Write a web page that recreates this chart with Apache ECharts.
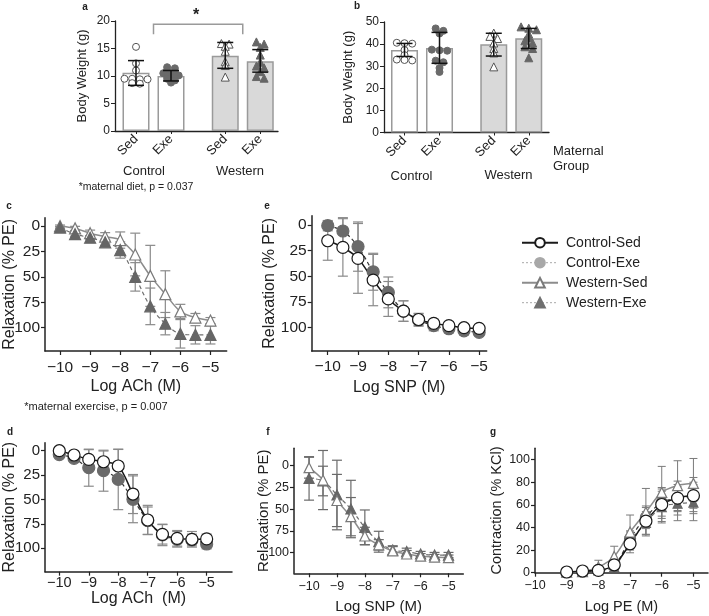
<!DOCTYPE html>
<html><head><meta charset="utf-8">
<script src="https://cdn.jsdelivr.net/npm/echarts@6/dist/echarts.min.js"></script>
<style>html,body{margin:0;padding:0;background:#fff}#c{width:709px;height:616px}</style>
</head><body><div id="c"></div>
<script>
// ================= DATA =================
const groupLabels = ['Control', 'Western'];
const barLabels = ['Sed', 'Exe', 'Sed', 'Exe'];
// panel a: body weight (g)
const aMeans = [10.6, 10.0, 13.7, 12.7];
const aLow   = [8.3, 9.1, 11.4, 10.7];
const aHigh  = [12.8, 11.0, 16.1, 14.8];
const aCSedPts = [15.3, 12.3, 11.0, 9.5, 9.5, 9.4, 9.4, 8.7, 8.6];
const aCExePts = [11.6, 11.4, 11.0, 10.7, 10.5, 10.3, 10.1, 10.0, 9.8, 9.5, 9.2, 8.8];
const aWSedPts = [15.9, 15.8, 15.4, 14.5, 12.6, 11.9, 9.8];
const aWExePts = [16.2, 15.8, 15.2, 13.8, 12.5, 11.8, 11.5, 10.8, 9.9, 9.6];
const aBracket = [19.4, 17.6];
// panel b: body weight (g)
const bMeans = [37.3, 38.2, 39.9, 42.7];
const bLow   = [34.4, 31.3, 34.6, 38.0];
const bHigh  = [40.3, 45.3, 44.9, 47.1];
const bCSedPts = [40.6, 40.4, 40.2, 37.3, 35.0, 33.0, 32.8, 32.6];
const bCExePts = [47.1, 46.0, 44.8, 37.5, 37.2, 37.0, 32.5, 31.8, 29.2, 27.4];
const bWSedPts = [45.0, 43.5, 42.5, 40.5, 38.0, 36.0, 29.7];
const bWExePts = [47.8, 47.2, 46.5, 44.5, 43.0, 41.5, 40.5, 38.8, 38.0, 33.8];
// concentration-response (log M)
const logConc = [-10, -9.5, -9, -8.5, -8, -7.5, -7, -6.5, -6, -5.5, -5];
const logPE   = [-9, -8.5, -8, -7.5, -7, -6.5, -6, -5.5, -5];
const logTicks = [-10, -9, -8, -7, -6, -5];
const relaxTicks = [0, 25, 50, 75, 100];
const contrTicks = [0, 20, 40, 60, 80, 100];
// panel c: ACh, Western
const cWSed    = [0, 2.3, 7, 10.5, 13.8, 28, 49, 67, 84, 90, 93];
const cWSedErr = [1, 2, 3, 4, 8, 21, 30, 23, 7, 4, 3];
const cWExe    = [1.5, 8, 11.5, 16, 23.6, 50, 79, 96, 106, 107, 107];
const cWExeErr = [1, 2, 2, 3, 8, 14, 18, 11, 14, 9, 9];
// panel e: SNP, Control
const eCSed    = [15.3, 21.8, 32.5, 53.6, 72, 83.8, 92, 95.8, 98, 100, 100.6];
const eCSedErr = [19, 28, 34, 25, 17, 10, 6, 4, 4, 3, 3];
const eCExe    = [0.6, 5.8, 21, 45.5, 65.6, 83.8, 92.5, 98, 101, 103, 104.5];
const eCExeErr = [5, 13, 24, 18, 15, 10, 6, 5, 4, 4, 3];
// panel d: ACh, Control
const dCSed    = [0, 4.4, 8.9, 11.3, 15.7, 44.4, 71, 85.7, 89.8, 90.8, 90.4];
const dCSedErr = [1, 2, 10, 11, 17, 20, 15, 10, 8, 8, 5];
const dCExe    = [4, 7.8, 17.4, 20.5, 29.4, 49.8, 71.7, 86.3, 90.8, 91.5, 95.6];
const dCExeErr = [1, 2, 19, 21, 31, 24, 14, 11, 8, 6, 5];
// panel f: SNP, Western
const fWSed    = [2.3, 16.5, 40, 58.6, 80.8, 91, 98, 101.5, 104, 105, 105.7];
const fWSedErr = [12, 34, 30, 22, 10, 6, 5, 4, 3, 3, 3];
const fWExe    = [14.6, 17.6, 33.7, 49.8, 70.9, 87.4, 97, 98.8, 101.5, 102.7, 102.7];
const fWExeErr = [25, 17, 40, 33, 20, 12, 5, 4, 3, 3, 3];
// panel g: PE contraction (% KCl)
const gCSed    = [0.6, 1.5, 2, 7, 25.6, 45.6, 60.3, 66, 68.2];
const gCSedErr = [0.5, 1, 2, 3, 8, 12, 15, 15, 16];
const gCExe    = [0.5, 1, 2, 6, 30, 49, 62, 66, 67];
const gCExeErr = [0.5, 1, 2, 3, 7, 10, 12, 12, 13];
const gWSed    = [0.5, 1, 5, 14.4, 36, 53.5, 71, 77, 79];
const gWSedErr = [1, 1, 6, 9, 15, 21, 23, 22, 22];
const gWExe    = [0.5, 1, 2, 5, 28, 44, 58, 61, 62];
const gWExeErr = [0.5, 1, 2, 3, 8, 10, 14, 15, 16];
const legendNames = ['Control-Sed', 'Control-Exe', 'Western-Sed', 'Western-Exe'];

// ================= STYLE / LAYOUT =================
const FONT = 'Liberation Sans';
const INK = '#222';
const GAP = 1.55;                       // extra spacing between diet groups (category units)
const barPos = [0, 1, 1 + GAP, 2 + GAP];
const groupCenter = [0.5, 1.5 + GAP];
const fmtMinus = v => (v < 0 ? '\u2212' + Math.abs(v) : String(v));
const ST = {
  'Control-Sed': {symbol: 'circle', fill: '#fff', border: '#1a1a1a', line: '#1a1a1a', dash: 'solid', width: 1.5},
  'Control-Exe': {symbol: 'circle', fill: '#6a6a6a', border: '#6a6a6a', line: '#333', dash: [4, 3], width: 1.2},
  'Western-Sed': {symbol: 'triangle', fill: '#fff', border: '#7a7a7a', line: '#8c8c8c', dash: 'solid', width: 1.5},
  'Western-Exe': {symbol: 'triangle', fill: '#666', border: '#666', line: '#6e6e6e', dash: [4, 3], width: 1.2}
};

function swarm(values, center, thr, step) {
  const s = values.slice().sort((a, b) => b - a);
  const rows = []; let cur = [];
  s.forEach(v => { if (cur.length && cur[0] - v >= thr) { rows.push(cur); cur = []; } cur.push(v); });
  if (cur.length) rows.push(cur);
  const out = [];
  rows.forEach(r => r.forEach((v, i) => out.push([center + (i - (r.length - 1) / 2) * step, v])));
  return out;
}

function errSeries(gi, data, color, cap, width, z) {
  return {
    type: 'custom', xAxisIndex: gi, yAxisIndex: gi, silent: true, z: z, clip: false,
    data: data, encode: {x: 0, y: [1, 2]},
    renderItem: (p, api) => {
      const x = api.value(0);
      const a = api.coord([x, api.value(1)]), b = api.coord([x, api.value(2)]);
      const s = {stroke: color, lineWidth: width};
      return {type: 'group', children: [
        {type: 'line', shape: {x1: a[0], y1: a[1], x2: b[0], y2: b[1]}, style: s},
        {type: 'line', shape: {x1: a[0] - cap, y1: a[1], x2: a[0] + cap, y2: a[1]}, style: s},
        {type: 'line', shape: {x1: b[0] - cap, y1: b[1], x2: b[0] + cap, y2: b[1]}, style: s}
      ]};
    }
  };
}
const symErr = (xs, ys, es) => xs.map((x, i) => [x, ys[i] - es[i], ys[i] + es[i]]);

function curve(name, gi, xs, ys, size) {
  const s = ST[name];
  return {
    type: 'line', name: name, xAxisIndex: gi, yAxisIndex: gi, z: 4,
    data: xs.map((x, i) => [x, ys[i]]), smooth: 0.35,
    symbol: s.symbol, symbolSize: s.symbol === 'triangle' ? size - 1 : size,
    showSymbol: true, showAllSymbol: true, clip: false,
    itemStyle: {color: s.fill, borderColor: s.border, borderWidth: 1.2, opacity: 1},
    lineStyle: {color: s.line, width: s.width, type: s.dash},
    emphasis: {disabled: true}
  };
}

function barXAxis(gi, min, max) {
  return {type: 'value', gridIndex: gi, min: min, max: max,
    axisLine: {show: true, onZero: false, lineStyle: {color: INK, width: 1.3}},
    axisTick: {show: true, customValues: barPos, length: 3, lineStyle: {color: INK}},
    axisLabel: {customValues: barPos, rotate: 45, fontSize: 13, color: INK, margin: 6, fontFamily: FONT,
      formatter: v => { let k = 0; barPos.forEach((p, i) => { if (Math.abs(p - v) < Math.abs(barPos[k] - v)) k = i; }); return barLabels[k]; }},
    splitLine: {show: false}};
}
function barYAxis(gi, max, interval, gap) {
  return {type: 'value', gridIndex: gi, min: 0, max: max, interval: interval,
    name: 'Body Weight (g)', nameLocation: 'middle', nameGap: gap, nameMoveOverlap: false,
    nameTextStyle: {fontSize: 13, color: INK, fontFamily: FONT},
    axisLine: {show: true, onZero: false, lineStyle: {color: INK, width: 1.3}},
    axisTick: {show: true, length: 4, lineStyle: {color: INK}},
    axisLabel: {fontSize: 12, color: INK, margin: 5, fontFamily: FONT},
    splitLine: {show: false}};
}
function curveXAxis(gi, min, max, ticks, name, fs, nfs, gap, margin) {
  return {type: 'value', gridIndex: gi, min: min, max: max,
    name: name, nameLocation: 'middle', nameGap: gap, nameMoveOverlap: false,
    nameTextStyle: {fontSize: nfs, color: INK, fontFamily: FONT},
    axisLine: {show: true, onZero: false, lineStyle: {color: INK, width: 1.5}},
    axisTick: {show: true, customValues: ticks, length: 4, lineStyle: {color: INK, width: 1.2}},
    axisLabel: {customValues: ticks, formatter: fmtMinus, fontSize: fs, color: INK, margin: margin, fontFamily: FONT},
    splitLine: {show: false}};
}
function curveYAxis(gi, min, max, ticks, inverse, name, fs, nfs, gap) {
  return {type: 'value', gridIndex: gi, min: min, max: max, inverse: inverse,
    name: name, nameLocation: 'middle', nameGap: gap, nameMoveOverlap: false,
    nameTextStyle: {fontSize: nfs, color: INK, fontFamily: FONT},
    axisLine: {show: true, onZero: false, lineStyle: {color: INK, width: 1.5}},
    axisTick: {show: true, customValues: ticks, length: 4, lineStyle: {color: INK, width: 1.2}},
    axisLabel: {customValues: ticks, fontSize: fs, color: INK, margin: 5, fontFamily: FONT},
    splitLine: {show: false}};
}

function barPanel(gi, means, low, high, pts, thr) {
  const out = [];
  out.push({type: 'bar', xAxisIndex: gi, yAxisIndex: gi, barWidth: 27, z: 2, silent: true,
    data: means.map((m, i) => ({value: [barPos[i], m], itemStyle: {color: i < 2 ? '#ffffff' : '#d9d9d9'}})),
    itemStyle: {borderColor: '#9a9a9a', borderWidth: 1.5}});
  const keys = ['Control-Sed', 'Control-Exe', 'Western-Sed', 'Western-Exe'];
  pts.forEach((p, i) => {
    const s = ST[keys[i]];
    out.push({type: 'scatter', xAxisIndex: gi, yAxisIndex: gi, z: 3, silent: true,
      symbol: s.symbol, symbolSize: s.symbol === 'triangle' ? 8 : 7,
      itemStyle: {color: s.fill, borderColor: s.fill === '#fff' ? '#555' : s.fill, borderWidth: 1, opacity: 1},
      data: swarm(p, barPos[i], thr, 0.22)});
  });
  out.push(errSeries(gi, barPos.map((x, i) => [x, low[i], high[i]]), '#111', 8, 1.5, 5));
  return out;
}

const grids = [
  {left: 115, top: 21, width: 163, height: 110},
  {left: 384, top: 22, width: 165, height: 110.5},
  {left: 45, top: 217.7, width: 181.7, height: 133.3},
  {left: 311.7, top: 215.7, width: 175, height: 135.3},
  {left: 45, top: 442.7, width: 187, height: 129},
  {left: 294, top: 448.3, width: 169.3, height: 125},
  {left: 535, top: 448.3, width: 173, height: 124.4}
].map(g => Object.assign({containLabel: false, outerBoundsMode: 'none'}, g));

const xAxes = [
  barXAxis(0, -0.6, 4.057),
  barXAxis(1, -0.586, 4.128),
  curveXAxis(2, -10.5, -4.46, logTicks, 'Log ACh (M)', 15.5, 16, 27.5, 9),
  curveXAxis(3, -10.53, -4.75, logTicks, 'Log SNP (M)', 15.5, 16, 29, 8),
  curveXAxis(4, -10.485, -4.14, logTicks, 'Log ACh  (M)', 14.5, 16, 18.5, 4),
  curveXAxis(5, -10.54, -4.47, logTicks, 'Log SNP (M)', 12.5, 15, 26, 7),
  curveXAxis(6, -10, -4.54, logTicks, 'Log PE (M)', 12.5, 14.5, 26.5, 6)
];
const yAxes = [
  barYAxis(0, 20, 5, 25.8),
  barYAxis(1, 50, 10, 29),
  curveYAxis(2, -8.2, 122.9, relaxTicks, true, 'Relaxation (% PE)', 15.5, 16, 27.5),
  curveYAxis(3, -9.1, 122.7, relaxTicks, true, 'Relaxation (% PE)', 15.5, 16, 34.5),
  curveYAxis(4, -8.2, 124, relaxTicks, true, 'Relaxation (% PE)', 15, 16, 27),
  curveYAxis(5, -20, 123.7, relaxTicks, true, 'Relaxation (% PE)', 12.5, 15, 23),
  curveYAxis(6, 0, 110, contrTicks, false, 'Contraction (% KCl)', 12.5, 14.5, 31)
];

const series = [].concat(
  barPanel(0, aMeans, aLow, aHigh, [aCSedPts, aCExePts, aWSedPts, aWExePts], 0.5),
  barPanel(1, bMeans, bLow, bHigh, [bCSedPts, bCExePts, bWSedPts, bWExePts], 1.5),
  [{
    type: 'custom', xAxisIndex: 0, yAxisIndex: 0, silent: true, z: 5, clip: false,
    data: [[groupCenter[0], groupCenter[1], aBracket[0], aBracket[1]]], encode: {x: [0, 1], y: [2, 3]},
    renderItem: (p, api) => {
      const a1 = api.coord([api.value(0), api.value(3)]), a2 = api.coord([api.value(0), api.value(2)]);
      const b2 = api.coord([api.value(1), api.value(2)]), b1 = api.coord([api.value(1), api.value(3)]);
      return {type: 'polyline', shape: {points: [a1, a2, b2, b1]}, style: {stroke: '#9a9a9a', lineWidth: 1.5, fill: null}};
    }
  }],
  // c
  errSeries(2, symErr(logConc, cWSed, cWSedErr), '#8a8a8a', 5, 1.2, 2),
  errSeries(2, symErr(logConc, cWExe, cWExeErr), '#8a8a8a', 5, 1.2, 2),
  curve('Western-Sed', 2, logConc, cWSed, 12),
  curve('Western-Exe', 2, logConc, cWExe, 12),
  // e
  errSeries(3, symErr(logConc, eCSed, eCSedErr), '#8a8a8a', 5, 1.2, 2),
  errSeries(3, symErr(logConc, eCExe, eCExeErr), '#8a8a8a', 5, 1.2, 2),
  curve('Control-Exe', 3, logConc, eCExe, 12),
  curve('Control-Sed', 3, logConc, eCSed, 12),
  // d
  errSeries(4, symErr(logConc, dCSed, dCSedErr), '#8a8a8a', 5, 1.2, 2),
  errSeries(4, symErr(logConc, dCExe, dCExeErr), '#8a8a8a', 5, 1.2, 2),
  curve('Control-Exe', 4, logConc, dCExe, 12),
  curve('Control-Sed', 4, logConc, dCSed, 12),
  // f
  errSeries(5, symErr(logConc, fWSed, fWSedErr), '#6a6a6a', 5, 1.2, 2),
  errSeries(5, symErr(logConc, fWExe, fWExeErr), '#6a6a6a', 5, 1.2, 2),
  curve('Western-Exe', 5, logConc, fWExe, 11),
  curve('Western-Sed', 5, logConc, fWSed, 11),
  // g
  errSeries(6, symErr(logPE, gWSed, gWSedErr), '#7a7a7a', 4, 1, 2),
  errSeries(6, symErr(logPE, gWExe, gWExeErr), '#7a7a7a', 4, 1, 2),
  errSeries(6, symErr(logPE, gCExe, gCExeErr), '#7a7a7a', 4, 1, 2),
  errSeries(6, symErr(logPE, gCSed, gCSedErr), '#7a7a7a', 4, 1, 2),
  curve('Western-Exe', 6, logPE, gWExe, 10),
  curve('Control-Exe', 6, logPE, gCExe, 11),
  curve('Western-Sed', 6, logPE, gWSed, 11),
  curve('Control-Sed', 6, logPE, gCSed, 12)
);

const txt = (x, y, text, font, align) => ({type: 'text', x: x, y: y, silent: true,
  style: {text: text, font: font, fill: INK, textAlign: align || 'center', textVerticalAlign: 'middle'}});
const graphicEls = [
  txt(85, 7, 'a', 'bold 10px ' + FONT),
  txt(357, 6, 'b', 'bold 10px ' + FONT),
  txt(196, 16, '*', 'bold 16px ' + FONT),
  txt(144, 171, groupLabels[0], '13px ' + FONT),
  txt(240, 171, groupLabels[1], '13px ' + FONT),
  txt(411.5, 176, groupLabels[0], '13px ' + FONT),
  txt(508.5, 175, groupLabels[1], '13px ' + FONT),
  txt(553, 151.7, 'Maternal', '13px ' + FONT, 'left'),
  txt(553, 166.7, 'Group', '13px ' + FONT, 'left'),
  txt(136, 187, '*maternal diet, p = 0.037', '10.5px ' + FONT),
  txt(9, 206, 'c', 'bold 10px ' + FONT),
  txt(267, 206, 'e', 'bold 10px ' + FONT),
  txt(96, 407, '*maternal exercise, p = 0.007', '11px ' + FONT),
  txt(10, 432, 'd', 'bold 10px ' + FONT),
  txt(268, 432, 'f', 'bold 10px ' + FONT),
  txt(493, 432, 'g', 'bold 10px ' + FONT)
];

const option = {
  animation: false,
  backgroundColor: '#fff',
  textStyle: {fontFamily: FONT},
  grid: grids, xAxis: xAxes, yAxis: yAxes,
  legend: {
    orient: 'vertical', left: 521, top: 235.7, itemWidth: 36, itemHeight: 12, itemGap: 6,
    selectedMode: false, padding: 0,
    textStyle: {fontSize: 14, color: INK, lineHeight: 12, fontFamily: FONT, padding: [0, 0, 0, 3]},
    data: [
      {name: legendNames[0]},
      {name: legendNames[1], itemStyle: {color: '#a8a8a8', borderColor: '#a8a8a8'}, lineStyle: {color: '#a8a8a8', type: [2, 2], width: 1}},
      {name: legendNames[2]},
      {name: legendNames[3], itemStyle: {color: '#707070', borderColor: '#707070'}, lineStyle: {color: '#a8a8a8', type: [2, 2], width: 1}}
    ]
  },
  graphic: {elements: graphicEls},
  series: series
};
const chart = echarts.init(document.getElementById('c'), null, {renderer: 'canvas'});
chart.setOption(option);
</script></body></html>
